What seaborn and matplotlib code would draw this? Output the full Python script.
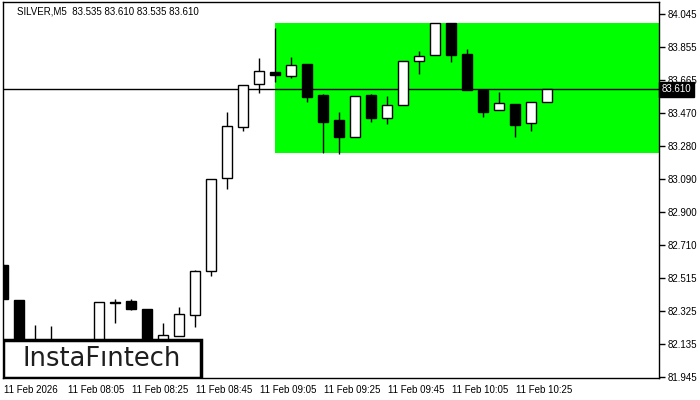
import numpy as np
import matplotlib
matplotlib.use("Agg")
import matplotlib.pyplot as plt
import matplotlib.transforms as mtransforms
from matplotlib.patches import Rectangle
import seaborn as sns

sns.set_style("white")
plt.rcParams["font.family"] = ["Liberation Sans", "DejaVu Sans"]

# ── 데이터: SILVER M5 캔들 (시가/고가/저가/종가) ─────────────────
opens = [82.592, 82.389, 82.13, 82.12, 82.10, 82.11, 82.10, 82.375, 82.383, 82.337,
         82.14, 82.181, 82.302, 82.557, 83.095, 83.389, 83.638, 83.709, 83.688, 83.756,
         83.576, 83.431, 83.331, 83.576, 83.441, 83.516, 83.771, 83.806, 83.993, 83.813,
         83.605, 83.487, 83.524, 83.412, 83.535]
highs = [82.600, 82.389, 82.244, 82.239, 82.15, 82.14, 82.378, 82.395, 82.395, 82.337,
         82.256, 82.348, 82.563, 83.090, 83.478, 83.632, 83.790, 83.964, 83.796, 83.756,
         83.582, 83.478, 83.568, 83.582, 83.570, 83.771, 83.833, 83.993, 83.993, 83.842,
         83.605, 83.593, 83.524, 83.534, 83.610]
lows = [82.395, 82.05, 82.06, 82.08, 82.05, 82.07, 82.08, 82.258, 82.330, 82.10,
        82.12, 82.181, 82.233, 82.530, 83.034, 83.369, 83.589, 83.653, 83.676, 83.537,
        83.242, 83.234, 83.331, 83.421, 83.408, 83.516, 83.699, 83.806, 83.769, 83.607,
        83.450, 83.487, 83.335, 83.369, 83.535]
closes = [82.395, 82.10, 82.10, 82.14, 82.12, 82.09, 82.378, 82.380, 82.339, 82.12,
          82.186, 82.308, 82.557, 83.090, 83.397, 83.632, 83.715, 83.694, 83.748, 83.566,
          83.421, 83.335, 83.568, 83.445, 83.516, 83.771, 83.802, 83.993, 83.809, 83.607,
          83.479, 83.528, 83.404, 83.534, 83.610]

time_labels = ["11 Feb 2026", "11 Feb 08:05", "11 Feb 08:25", "11 Feb 08:45", "11 Feb 09:05",
               "11 Feb 09:25", "11 Feb 09:45", "11 Feb 10:05", "11 Feb 10:25"]
time_pos = [0, 4, 8, 12, 16, 20, 24, 28, 32]
price_ticks = [84.045, 83.855, 83.665, 83.470, 83.280, 83.090,
               82.900, 82.710, 82.515, 82.325, 82.135, 81.945]

last_price = 83.610
zone_start, zone_low, zone_high = 17, 83.240, 83.993

# ── 그림 ─────────────────────────────────────────────────────
fig = plt.figure(figsize=(7, 4), dpi=100)
ax = fig.add_axes([3 / 700, 22 / 400, 656 / 700, 376 / 400])

x = np.arange(len(opens))
o, h, l, c = map(np.array, (opens, highs, lows, closes))
up = c >= o

# 녹색 박스 (직사각형 패턴)
ax.add_patch(Rectangle((zone_start, zone_low), 41 - zone_start, zone_high - zone_low,
                       facecolor="#00ff00", edgecolor="none", zorder=1))

ax.vlines(x, l, h, color="black", lw=1.0, zorder=3)
body_h = np.maximum(np.abs(c - o), 0.0015)
ax.bar(x, body_h, bottom=np.minimum(o, c), width=0.62,
       color=np.where(up, "white", "black"), edgecolor="black", lw=1.0, zorder=4)

ax.axhline(last_price, color="black", lw=1.0, zorder=2)

ax.set_xlim(0, 41)
ax.set_ylim(81.939, 84.114)

ax.set_xticks(time_pos)
ax.set_xticklabels(time_labels, fontsize=7, ha="left")
ax.set_yticks(price_ticks)
ax.set_yticklabels([f"{p:.3f}" for p in price_ticks], fontsize=7)
ax.yaxis.tick_right()
ax.tick_params(axis="x", direction="out", length=4, width=1, pad=1, colors="black")
ax.tick_params(axis="y", direction="out", length=4, width=1, pad=2, colors="black")
for lab in ax.get_xticklabels():
    lab.set_transform(lab.get_transform() + mtransforms.ScaledTranslation(1 / 100, 0, fig.dpi_scale_trans))

for s in ax.spines.values():
    s.set_visible(True)
    s.set_color("black")
    s.set_linewidth(1.0)

# 현재가 라벨
ax.text(1.004, last_price, f"{last_price:.3f}", transform=ax.get_yaxis_transform(),
        fontsize=7, color="white", va="center", ha="left", clip_on=False, zorder=6,
        bbox=dict(boxstyle="square,pad=0.25", fc="black", ec="black"))

# 로고 박스
ax.add_patch(Rectangle((0.0, 0.0), 198 / 656, 38 / 376, transform=ax.transAxes,
                       facecolor="white", edgecolor="black", lw=2.5, zorder=7))
ax.text(99 / 656, 19 / 376, "InstaF\u0131ntech", transform=ax.transAxes,
        fontsize=18.5, color="#1e1e1e", ha="center", va="center", zorder=8,
        family=["DejaVu Sans"])

fig.text(17 / 700, 1 - 11 / 400, "SILVER,M5  83.535 83.610 83.535 83.610",
         fontsize=7, color="black", va="center", ha="left")

fig.savefig("out.png", dpi=100)
